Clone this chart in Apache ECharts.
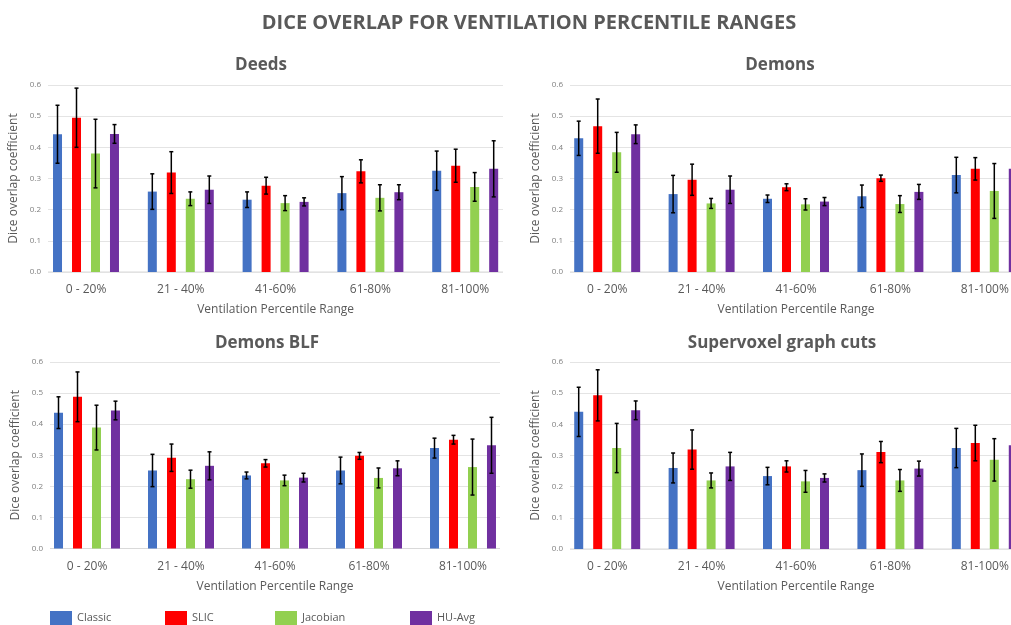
<!DOCTYPE html>
<html>
<head>
<meta charset="utf-8">
<script src="https://cdn.jsdelivr.net/npm/echarts@6/dist/echarts.min.js"></script>
<style>
  html, body { margin: 0; padding: 0; background: #fff; }
  #chart { width: 1011px; height: 625px; }
</style>
</head>
<body>
<div id="chart"></div>
<script>
const categories = ['0 - 20%', '21 - 40%', '41-60%', '61-80%', '81-100%'];
const seriesNames = ['Classic', 'SLIC', 'Jacobian', 'HU-Avg'];

// rows: Classic, SLIC, Jacobian, HU-Avg
const deedsMean = [
  [0.442, 0.258, 0.232, 0.253, 0.325],
  [0.495, 0.319, 0.277, 0.323, 0.341],
  [0.380, 0.235, 0.221, 0.238, 0.273],
  [0.443, 0.264, 0.225, 0.256, 0.331]
];
const deedsErr = [
  [0.093, 0.057, 0.025, 0.053, 0.063],
  [0.095, 0.067, 0.027, 0.037, 0.053],
  [0.110, 0.022, 0.024, 0.042, 0.046],
  [0.030, 0.044, 0.013, 0.024, 0.090]
];
const demonsMean = [
  [0.429, 0.250, 0.235, 0.243, 0.311],
  [0.468, 0.296, 0.272, 0.301, 0.331],
  [0.384, 0.220, 0.217, 0.218, 0.260],
  [0.442, 0.264, 0.226, 0.257, 0.331]
];
const demonsErr = [
  [0.055, 0.060, 0.012, 0.036, 0.057],
  [0.087, 0.050, 0.011, 0.010, 0.036],
  [0.064, 0.016, 0.018, 0.027, 0.088],
  [0.030, 0.044, 0.013, 0.024, 0.090]
];
const blfMean = [
  [0.437, 0.251, 0.235, 0.251, 0.323],
  [0.488, 0.292, 0.274, 0.298, 0.350],
  [0.389, 0.223, 0.219, 0.227, 0.262],
  [0.444, 0.266, 0.228, 0.258, 0.332]
];
const blfErr = [
  [0.051, 0.052, 0.011, 0.043, 0.032],
  [0.080, 0.044, 0.012, 0.011, 0.014],
  [0.072, 0.029, 0.017, 0.032, 0.090],
  [0.030, 0.045, 0.014, 0.024, 0.090]
];
const svMean = [
  [0.440, 0.260, 0.234, 0.253, 0.324],
  [0.493, 0.319, 0.265, 0.311, 0.340],
  [0.324, 0.220, 0.217, 0.220, 0.286],
  [0.445, 0.265, 0.228, 0.258, 0.333]
];
const svErr = [
  [0.079, 0.048, 0.028, 0.052, 0.063],
  [0.082, 0.063, 0.018, 0.034, 0.057],
  [0.079, 0.024, 0.035, 0.035, 0.068],
  [0.030, 0.045, 0.013, 0.024, 0.090]
];

const colors = ['#4472C4', '#FF0000', '#92D050', '#7030A0'];
const font = '"Open Sans", "Noto Sans", sans-serif';
const textGray = '#595959';

const panels = [
  { title: 'Deeds', mean: deedsMean, err: deedsErr, tx: 256, ty: 52,
    bg: { left: 48, width: 455, top: 85, height: 187 }, bars: { left: 38.6, width: 474 } },
  { title: 'Demons', mean: demonsMean, err: demonsErr, tx: 775, ty: 52,
    bg: { left: 570, width: 455, top: 85, height: 187 }, bars: { left: 560, width: 472 } },
  { title: 'Demons BLF', mean: blfMean, err: blfErr, tx: 262, ty: 330,
    bg: { left: 50, width: 450, top: 362, height: 186.5 }, bars: { left: 40, width: 470 } },
  { title: 'Supervoxel graph cuts', mean: svMean, err: svErr, tx: 777, ty: 330,
    bg: { left: 570, width: 455, top: 362, height: 187 }, bars: { left: 560, width: 472 } }
];

const chart = echarts.init(document.getElementById('chart'));

const grid = [], xAxis = [], yAxis = [], series = [];
const title = [{
  text: 'DICE OVERLAP FOR VENTILATION PERCENTILE RANGES',
  left: 524, top: 8, textAlign: 'center',
  textStyle: { fontFamily: font, fontSize: 20, fontWeight: 'bold', color: textGray }
}];

panels.forEach((p, pi) => {
  title.push({
    text: p.title, left: p.tx, top: p.ty, textAlign: 'center',
    textStyle: { fontFamily: font, fontSize: 17, fontWeight: 'bold', color: textGray }
  });
  const g0 = pi * 2, g1 = pi * 2 + 1;
  // background grid: y labels, gridlines, axis line
  grid.push({ left: p.bg.left, top: p.bg.top, width: p.bg.width, height: p.bg.height, outerBoundsMode: 'none' });
  // bars grid
  grid.push({ left: p.bars.left, top: p.bg.top, width: p.bars.width, height: p.bg.height, outerBoundsMode: 'none' });

  xAxis.push({
    gridIndex: g0, type: 'value', min: 0, max: 1, show: true,
    axisLine: { show: false }, axisTick: { show: false }, axisLabel: { show: false },
    splitLine: { show: false }
  });
  xAxis.push({
    gridIndex: g1, type: 'category', data: categories,
    axisLine: { show: false }, axisTick: { show: false },
    axisLabel: { fontFamily: font, fontSize: 12, color: textGray, margin: 12 },
    name: 'Ventilation Percentile Range', nameLocation: 'middle', nameGap: 32,
    nameTextStyle: { fontFamily: font, fontSize: 12, color: textGray }
  });
  yAxis.push({
    gridIndex: g0, type: 'value', min: 0, max: 0.6, interval: 0.1,
    axisLine: { show: false }, axisTick: { show: false },
    axisLabel: { fontFamily: font, fontSize: 8, color: '#7f7f7f', margin: 7,
      formatter: v => v.toFixed(1) },
    splitLine: { lineStyle: { color: '#e4e4e4', width: 1 } },
    name: 'Dice overlap coefficient', nameLocation: 'middle', nameGap: 28,
    nameTextStyle: { fontFamily: font, fontSize: 12, color: textGray }
  });
  yAxis.push({
    gridIndex: g1, type: 'value', min: 0, max: 0.6, show: false, splitLine: { show: false }
  });

  // baseline under the bars
  series.push({
    type: 'line', xAxisIndex: g0, yAxisIndex: g0, data: [[0, 0], [1, 0]],
    symbol: 'none', silent: true, lineStyle: { color: '#d9d9d9', width: 1 }, z: 1
  });

  seriesNames.forEach((name, si) => {
    series.push({
      name, type: 'bar', xAxisIndex: g1, yAxisIndex: g1,
      data: p.mean[si], barWidth: 9, barGap: '111%',
      itemStyle: { color: colors[si] }, z: 2
    });
  });
  seriesNames.forEach((name, si) => {
    const errData = p.mean[si].map((m, ci) => [ci, m - p.err[si][ci], m + p.err[si][ci]]);
    const offset = (si - 1.5) * 19;
    series.push({
      type: 'custom', xAxisIndex: g1, yAxisIndex: g1, silent: true, z: 5,
      data: errData,
      renderItem: (params, api) => {
        const lo = api.coord([api.value(0), api.value(1)]);
        const hi = api.coord([api.value(0), api.value(2)]);
        const x = lo[0] + offset;
        const style = { stroke: '#000', lineWidth: 1.5 };
        return {
          type: 'group',
          children: [
            { type: 'line', shape: { x1: x, y1: lo[1], x2: x, y2: hi[1] }, style },
            { type: 'line', shape: { x1: x - 2, y1: lo[1], x2: x + 2, y2: lo[1] }, style },
            { type: 'line', shape: { x1: x - 2, y1: hi[1], x2: x + 2, y2: hi[1] }, style }
          ]
        };
      }
    });
  });
});

const legendLeft = [50, 165, 275, 410];
const legend = seriesNames.map((name, i) => ({
  data: [name], left: legendLeft[i], top: 611, padding: 0,
  icon: 'rect', itemWidth: 22, itemHeight: 14, itemGap: 9,
  textStyle: { fontFamily: font, fontSize: 11, color: textGray }
}));

chart.setOption({
  animation: false,
  title, legend, grid, xAxis, yAxis, series
});
</script>
</body>
</html>
